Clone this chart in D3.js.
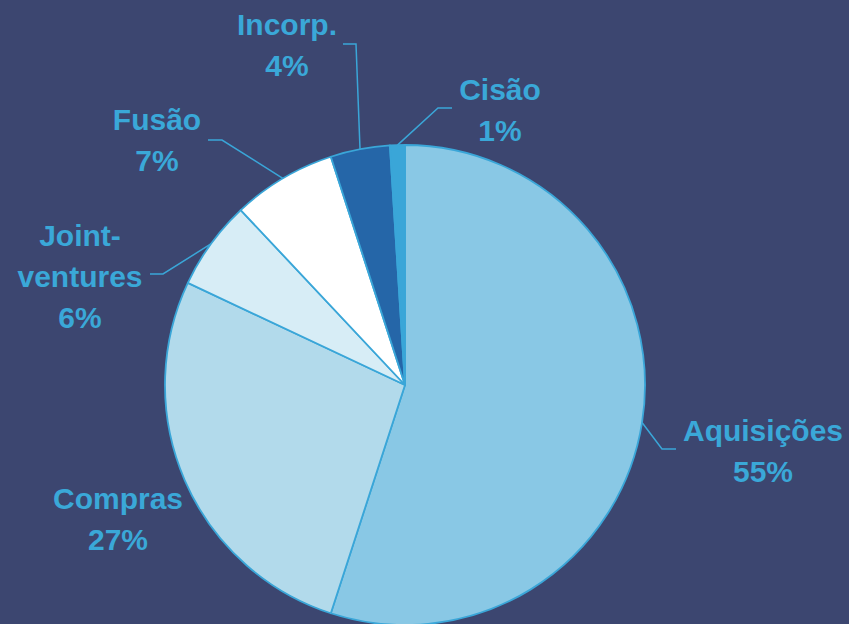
<!DOCTYPE html>
<html>
<head>
<meta charset="utf-8">
<script src="https://cdn.jsdelivr.net/npm/d3@7"></script>
<style>
  html, body { margin: 0; padding: 0; background: #3c4670; }
  svg { display: block; }
</style>
</head>
<body>
<div id="chart"></div>
<script>
// data
var categories = ["Aquisições", "Compras", "Joint-ventures", "Fusão", "Incorp.", "Cisão"];
var values = [55, 27, 6, 7, 4, 1];
var labelLines = [["Aquisições", "55%"], ["Compras", "27%"], ["Joint-", "ventures", "6%"], ["Fusão", "7%"], ["Incorp.", "4%"], ["Cisão", "1%"]];
var colors = ["#89c8e5", "#b2daeb", "#d7edf6", "#ffffff", "#2566a8", "#3aa6d8"];

// label layout (text centre, first baseline, leader elbow and end)
var labelPos = [
  { x: 763, y: 441, elbow: [662, 449], end: [676, 449] },
  { x: 118, y: 509, elbow: null, end: null },
  { x: 80, y: 246, elbow: [163, 274], end: [150, 274] },
  { x: 157, y: 130, elbow: [222, 140], end: [208, 140] },
  { x: 287, y: 35, elbow: [356, 44], end: [343, 44] },
  { x: 500, y: 100, elbow: [438, 108], end: [452, 108] }
];

var width = 849, height = 624;
var cx = 405, cy = 385, radius = 240;

var svg = d3.select('#chart')
  .append('svg')
  .attr('width', width)
  .attr('height', height);

svg.append('rect')
  .attr('width', width)
  .attr('height', height)
  .attr('fill', '#3c4670');

var rows = categories.map(function(c, i) { return { name: c, value: values[i], i: i }; });

var pie = d3.pie()
  .sort(null)
  .value(function(d) { return d.value; });

var arc = d3.arc()
  .innerRadius(0)
  .outerRadius(radius);

var g = svg.append('g')
  .attr('transform', 'translate(' + cx + ',' + cy + ')');

var arcs = pie(rows);

g.selectAll('path')
  .data(arcs)
  .enter()
  .append('path')
  .attr('d', arc)
  .attr('fill', function(d) { return colors[d.data.i]; })
  .attr('stroke', '#3aa6d8')
  .attr('stroke-width', 1.8)
  .attr('stroke-linejoin', 'round');

// leader lines: from slice edge at mid angle to elbow then end
arcs.forEach(function(a) {
  var p = labelPos[a.data.i];
  if (!p.elbow) return;
  var mid = (a.startAngle + a.endAngle) / 2;
  var ax = cx + radius * Math.sin(mid);
  var ay = cy - radius * Math.cos(mid);
  svg.append('polyline')
    .attr('points', [[ax, ay], p.elbow, p.end].map(function(q) { return q.join(','); }).join(' '))
    .attr('fill', 'none')
    .attr('stroke', '#3aa6d8')
    .attr('stroke-width', 1.5);
});

// labels
arcs.forEach(function(a) {
  var p = labelPos[a.data.i];
  var t = svg.append('text')
    .attr('text-anchor', 'middle')
    .style('font-family', '"Liberation Sans", Arial, sans-serif')
    .style('font-weight', 'bold')
    .style('font-size', '30px')
    .style('fill', '#3aa8d8');
  labelLines[a.data.i].forEach(function(line, k) {
    t.append('tspan')
      .attr('x', p.x)
      .attr('y', p.y + k * 41)
      .text(line);
  });
});
</script>
</body>
</html>
